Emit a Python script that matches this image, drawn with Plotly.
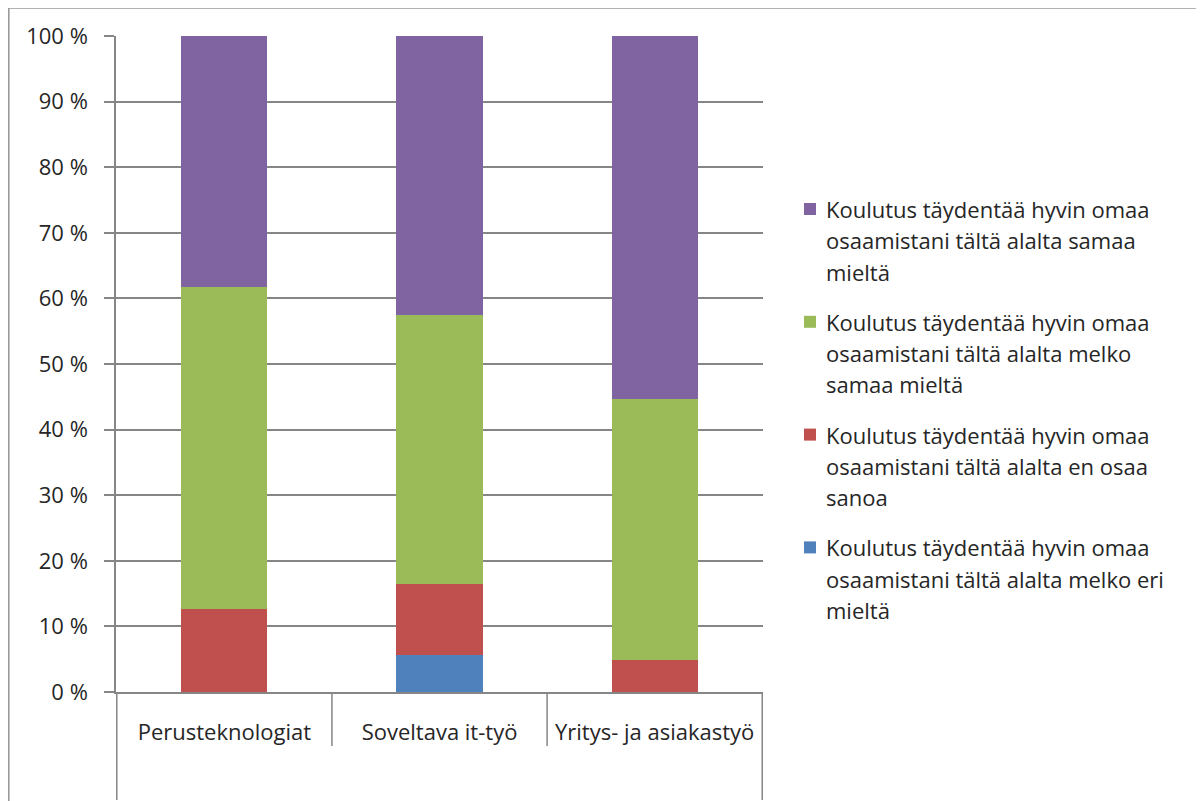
import plotly.graph_objects as go

categories = ["Perusteknologiat", "Soveltava it-työ", "Yritys- ja asiakastyö"]

# series (bottom to top in stack)
blue_vals = [0.0, 5.7, 0.0]      # melko eri mieltä
red_vals = [12.7, 10.8, 4.9]     # en osaa sanoa
green_vals = [49.0, 40.9, 39.7]  # melko samaa mieltä
purple_vals = [38.3, 42.6, 55.4] # samaa mieltä

name_blue = "Koulutus täydentää hyvin omaa<br>osaamistani tältä alalta melko eri<br>mieltä"
name_red = "Koulutus täydentää hyvin omaa<br>osaamistani tältä alalta en osaa<br>sanoa"
name_green = "Koulutus täydentää hyvin omaa<br>osaamistani tältä alalta melko<br>samaa mieltä"
name_purple = "Koulutus täydentää hyvin omaa<br>osaamistani tältä alalta samaa<br>mieltä"

y_ticks = [0, 10, 20, 30, 40, 50, 60, 70, 80, 90, 100]
y_tick_text = ["0 %", "10 %", "20 %", "30 %", "40 %", "50 %", "60 %", "70 %", "80 %", "90 %", "100 %"]

C_BLUE = "#4F81BD"
C_RED = "#C0504D"
C_GREEN = "#9BBB59"
C_PURPLE = "#8064A2"
GRID = "#868686"
TXT = "#262626"
FONT = "Open Sans"
FS = 22

OFF = 8  # page body margin
W, H = 1204 - OFF, 801 - OFF
# plot area in page pixels
L, R, T, B = 116, 763, 36, 692
PW, PH = R - L, B - T


def px_x(px):
    return (px - L) / PW


def px_y(py):
    return (B - py) / PH


fig = go.Figure()
series = [
    (name_blue, blue_vals, C_BLUE),
    (name_red, red_vals, C_RED),
    (name_green, green_vals, C_GREEN),
    (name_purple, purple_vals, C_PURPLE),
]
for nm, vals, col in series:
    fig.add_trace(go.Bar(x=categories, y=vals, name=nm, marker=dict(color=col, line=dict(width=0)),
                         showlegend=False))

shapes = []
# category dividers
for xv, bottom in [(-0.5, 800), (0.5, 746), (1.5, 746), (2.5, 800)]:
    shapes.append(dict(type="line", xref="x", yref="paper", x0=xv, x1=xv, y0=0, y1=px_y(bottom),
                       line=dict(color=GRID, width=1.5)))
# outer border
shapes.append(dict(type="rect", xref="paper", yref="paper", x0=px_x(OFF + 0.8), x1=px_x(1230), y0=px_y(8),
                   y1=px_y(840), line=dict(color="#9A9A9A", width=1.6), fillcolor="rgba(0,0,0,0)", layer="below"))

annotations = []
# custom legend (top to bottom: purple, green, red, blue)
legend_items = [(name_purple, C_PURPLE), (name_green, C_GREEN), (name_red, C_RED), (name_blue, C_BLUE)]
first_line_y = 209
entry_gap = 112.8
line_gap = 31.3
for i, (nm, col) in enumerate(legend_items):
    y0 = first_line_y + i * entry_gap
    shapes.append(dict(type="rect", xref="paper", yref="paper", x0=px_x(804), x1=px_x(816),
                       y0=px_y(y0 - 6), y1=px_y(y0 + 6), fillcolor=col, line=dict(width=0)))
    for j, ln in enumerate(nm.split("<br>")):
        annotations.append(dict(xref="paper", yref="paper", x=px_x(824), y=px_y(y0 + j * line_gap),
                                xanchor="left", yanchor="middle", showarrow=False, text=ln,
                                font=dict(family=FONT, size=FS, color=TXT)))

fig.update_layout(
    width=W, height=H,
    margin=dict(l=L - OFF, r=W - (R - OFF), t=T - OFF, b=H - (B - OFF), pad=0),
    barmode="stack",
    bargap=0.6,
    plot_bgcolor="white",
    paper_bgcolor="white",
    font=dict(family=FONT, size=FS, color=TXT),
    shapes=shapes,
    annotations=annotations,
    showlegend=False,
)
fig.update_yaxes(range=[0, 100], tickvals=y_ticks, ticktext=y_tick_text, showgrid=True, gridcolor=GRID,
                 gridwidth=1.5, showline=True, linecolor=GRID, linewidth=1.5, ticks="outside", ticklen=10,
                 tickcolor=GRID, tickwidth=1.5, zeroline=False, ticklabelstandoff=12,
                 tickfont=dict(family=FONT, size=FS, color=TXT), fixedrange=True)
fig.update_xaxes(showline=True, linecolor=GRID, linewidth=1.5, ticks="", showgrid=False,
                 ticklabelstandoff=20, tickfont=dict(family=FONT, size=FS, color=TXT), fixedrange=True)

fig.write_html("out.html")
